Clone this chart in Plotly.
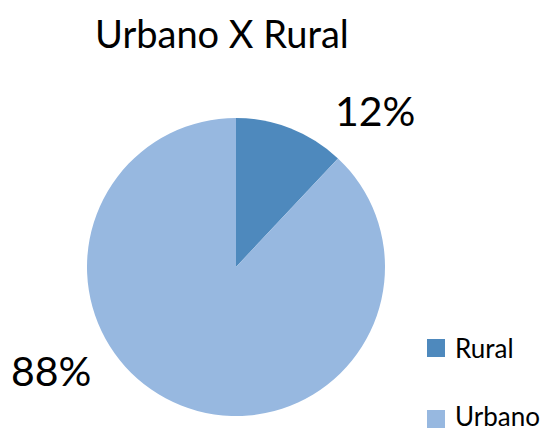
import plotly.graph_objects as go

categories = ["Rural", "Urbano"]
values = [12, 88]
colors = ["#4E89BD", "#97B8E0"]
title_text = "Urbano X Rural"

W, H = 552, 434
FONT = "Lato, Carlito, Calibri, sans-serif"

# pie geometry (pixels)
cx, cy, r = 236, 267, 149

fig = go.Figure()
fig.add_trace(go.Pie(
    labels=categories,
    values=values,
    marker=dict(colors=colors, line=dict(width=0)),
    sort=False,
    direction="clockwise",
    rotation=0,
    textinfo="none",
    hoverinfo="label+percent",
    showlegend=False,
    domain=dict(x=[(cx - r) / W, (cx + r) / W], y=[1 - (cy + r) / H, 1 - (cy - r) / H]),
))

total = sum(values)
pct = [f"{round(v / total * 100)}%" for v in values]

# data labels
label_pos = [(375, 110), (51, 370)]
for t, (x, y) in zip(pct, label_pos):
    fig.add_annotation(x=x / W, y=1 - y / H, xref="paper", yref="paper",
                       text=t, showarrow=False, xanchor="center", yanchor="middle",
                       font=dict(family=FONT, size=41, color="#000000"))

# title
fig.add_annotation(x=222 / W, y=1 - 33 / H, xref="paper", yref="paper",
                   text=title_text, showarrow=False, xanchor="center", yanchor="middle",
                   font=dict(family=FONT, size=38, color="#000000"))

# legend (manual)
leg_y = [348, 419]
for name, col, y in zip(categories, colors, leg_y):
    fig.add_shape(type="rect", xref="paper", yref="paper",
                  x0=427 / W, x1=445 / W, y0=1 - (y + 9) / H, y1=1 - (y - 9) / H,
                  fillcolor=col, line=dict(width=0))
    fig.add_annotation(x=453 / W, y=1 - min(y, 416) / H, xref="paper", yref="paper",
                       text=name, showarrow=False, xanchor="left", yanchor="middle",
                       font=dict(family=FONT, size=26, color="#000000"))

fig.update_layout(
    width=W, height=H,
    margin=dict(l=0, r=0, t=0, b=0),
    paper_bgcolor="white", plot_bgcolor="white",
    showlegend=False,
)

fig.write_html("out.html", config={"displayModeBar": False},
               post_script="document.body.style.margin='0';document.body.style.overflow='hidden';")
